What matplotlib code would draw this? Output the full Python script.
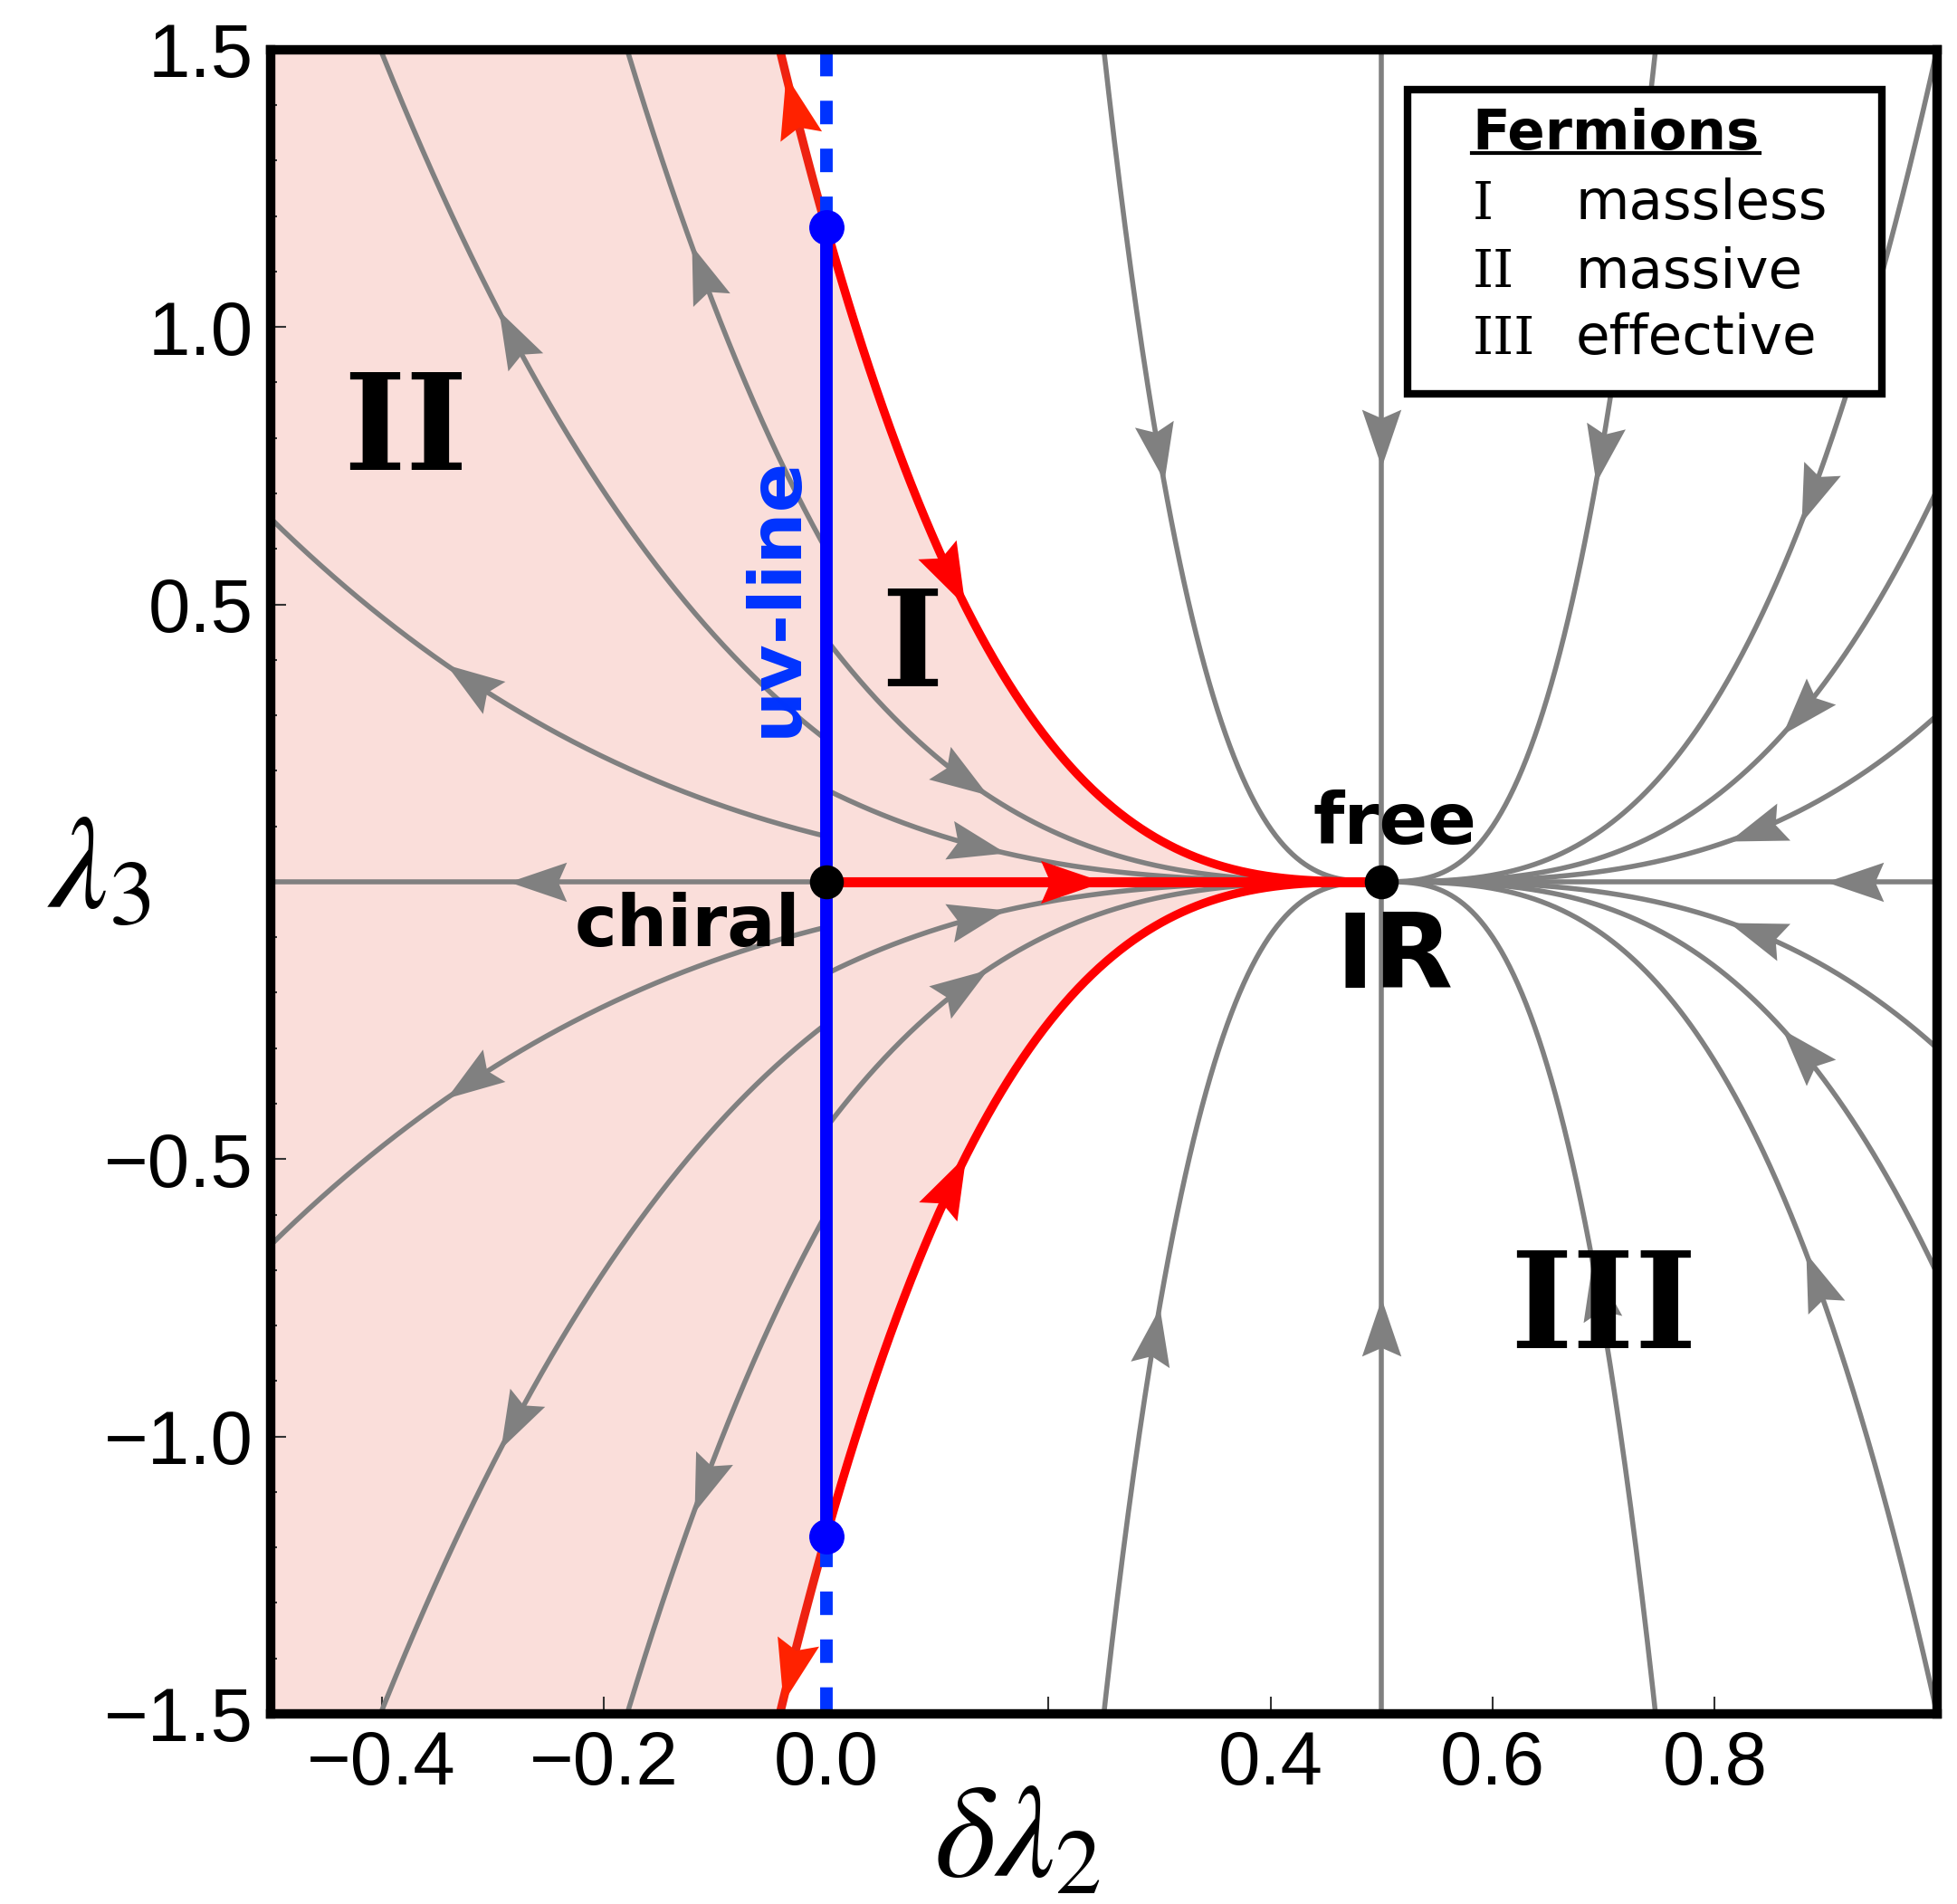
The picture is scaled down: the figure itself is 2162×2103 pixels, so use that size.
import matplotlib.pyplot as plt
import numpy as np
from matplotlib.markers import MarkerStyle
from matplotlib.path import Path
from matplotlib.transforms import Affine2D
from matplotlib.patches import Rectangle
from matplotlib.ticker import MultipleLocator

plt.rcParams['font.family'] = ['Liberation Sans', 'DejaVu Sans']
plt.rcParams['mathtext.fontset'] = 'stix'

# Puntos fijos: chiral (0,0), IR (0.5,0) y extremo de la linea UV
x_uv = 0.0
x_ir = 0.5
y_uv = 1.18

# Lineas de flujo: lambda3 = c * |dl2 - 0.5|**3, una constante c por linea
c_left = [0.655, 2.05, 4.79, -0.655, -2.05, -4.79]        # de la linea UV hacia la izquierda
tip_left = [-0.342, -0.295, -0.121, -0.342, -0.293, -0.119]
c_mid = [1.33, 3.5, 96.0, -1.33, -3.55, -96.0]             # de la linea UV hacia IR
tip_mid = [0.162, 0.145, 0.304, 0.162, 0.145, 0.300]
c_right = [2.4, 5.65, 12.0, 100.0, -2.4, -5.65, -12.0, -100.0]  # desde la derecha hacia IR
tip_right = [0.813, 0.861, 0.878, 0.693, 0.813, 0.861, 0.882, 0.690]

# separatriz roja
c_sep = [9.44, -9.44]
tip_sep = [0.125, 0.126]
tip_sep_out = [-0.036, -0.039]

# flechas sobre los ejes lambda3=0 y dl2=0.5
tip_axis_left = -0.286
tip_axis_red = 0.250
tip_axis_right = 0.900
tip_vertical = [0.748, -0.751]

x_ticks = [-0.4, -0.2, 0.0, 0.2, 0.4, 0.6, 0.8]
x_labels = ['\u22120.4', '\u22120.2', '0.0', '', '0.4', '0.6', '0.8']
y_ticks = [-1.5, -1.0, -0.5, 0.0, 0.5, 1.0, 1.5]
y_labels = ['\u22121.5', '\u22121.0', '\u22120.5', '', '0.5', '1.0', '1.5']

legend_num = ['I', 'II', 'III']
legend_txt = ['massless', 'massive', 'effective']

gris = '#808080'
rojo = '#ff0000'
rojo2 = '#ee2211'
azul = '#0000ff'
azul2 = '#0033ff'
rosa = '#fadeda'


def flujo(c, x):
    return c * np.abs(x - x_ir) ** 3


fig = plt.figure(figsize=(21.62, 21.03), dpi=100)
ax = fig.add_axes([0.1383, 0.0999, 0.8515, 0.8740])
ax.set_xlim(-0.5, 1.0)
ax.set_ylim(-1.5, 1.5)

# punta de flecha con muesca (estilo Mathematica)
punta = Path([(0, 0), (-1, 0.34), (-0.85, 0), (-1, -0.34), (0, 0)],
             [Path.MOVETO, Path.LINETO, Path.LINETO, Path.LINETO, Path.CLOSEPOLY])


def flecha(x, y, xa, ya, color, z=3, ms=92):
    # (xa, ya) es un punto detras de la punta, sobre la curva
    p0 = ax.transData.transform((xa, ya))
    p1 = ax.transData.transform((x, y))
    ang = np.degrees(np.arctan2(p1[1] - p0[1], p1[0] - p0[0]))
    m = MarkerStyle(punta, transform=Affine2D().rotate_deg(ang))
    ax.plot([x], [y], marker=m, ms=ms, color=color, mew=0, ls='none', zorder=z)


def flecha_curva(c, xt, sentido, color, z=3, ms=92):
    xa = xt - sentido * 0.004
    flecha(xt, flujo(c, xt), xa, flujo(c, xa), color, z, ms)


# region sombreada (a la izquierda de la separatriz)
yy = np.linspace(-1.5, 1.5, 801)
x_borde = x_ir - (np.abs(yy) / c_sep[0]) ** (1 / 3)
ax.fill_betweenx(yy, -0.5, x_borde, color=rosa, lw=0, zorder=0.5)

# lineas grises
xl = np.linspace(-0.5, x_uv, 400)
for c, xt in zip(c_left, tip_left):
    ax.plot(xl, flujo(c, xl), color=gris, lw=4, zorder=2)
    flecha_curva(c, xt, -1, gris, 2)

xm = np.linspace(x_uv, x_ir, 400)
for c, xt in zip(c_mid, tip_mid):
    ax.plot(xm, flujo(c, xm), color=gris, lw=4, zorder=2)
    flecha_curva(c, xt, 1, gris, 2)

xr = np.linspace(x_ir, 1.0, 400)
for c, xt in zip(c_right, tip_right):
    ax.plot(xr, flujo(c, xr), color=gris, lw=4, zorder=2)
    flecha_curva(c, xt, -1, gris, 2)

ax.plot([-0.5, x_uv], [0, 0], color=gris, lw=4, zorder=2)
flecha(tip_axis_left, 0, tip_axis_left + 0.01, 0, gris, 2)
ax.plot([x_ir, 1.0], [0, 0], color=gris, lw=4, zorder=2)
flecha(tip_axis_right, 0, tip_axis_right + 0.01, 0, gris, 2)
ax.plot([x_ir, x_ir], [-1.5, 1.5], color=gris, lw=4, zorder=2)
for yt in tip_vertical:
    flecha(x_ir, yt, x_ir, yt + 0.02 * np.sign(yt), gris, 2)

# separatriz roja
for c, xt, xo in zip(c_sep, tip_sep, tip_sep_out):
    ax.plot(xm, flujo(c, xm), color=rojo, lw=6.8, zorder=3)
    flecha_curva(c, xt, 1, rojo, ms=100)
    xe = np.linspace(-0.06, x_uv, 100)
    ax.plot(xe, flujo(c, xe), color=rojo2, lw=6.8, zorder=3)
    flecha_curva(c, xo, -1, '#ff2200', ms=100)
ax.plot([x_uv, x_ir], [0, 0], color=rojo, lw=8, zorder=3)
flecha(tip_axis_red, 0, tip_axis_red - 0.01, 0, rojo, ms=100)

# linea UV (continua) y su prolongacion a trazos
ax.plot([x_uv, x_uv], [-y_uv, y_uv], color=azul, lw=10, zorder=4, solid_capstyle='butt')
for s in [1, -1]:
    ax.plot([x_uv, x_uv], [s * y_uv, s * 1.5], color=azul2, lw=10, zorder=4,
            ls=(3.24, (1.87, 1.94)), dash_capstyle='butt')
ax.plot([x_uv, x_uv], [y_uv, -y_uv], 'o', color=azul, ms=27, zorder=5)
ax.plot([x_uv, x_ir], [0, 0], 'o', color='black', ms=26, zorder=5)

# textos
ax.text(-0.045, 0.514, 'uv-line', color=azul2, rotation=90, fontsize=58,
        fontweight='bold', family='DejaVu Sans', ha='center', va='center', zorder=6)
ax.text(-0.125, -0.080, 'chiral', fontsize=57, fontweight='bold',
        family='DejaVu Sans', ha='center', va='center', zorder=6)
ax.text(0.512, 0.104, 'free', fontsize=57, fontweight='bold',
        family='DejaVu Sans', ha='center', va='center', zorder=6)
ax.text(0.512, -0.139, 'IR', fontsize=82, fontweight='bold',
        family='DejaVu Sans', ha='center', va='center', zorder=6)
ax.text(-0.379, 0.809, 'II', fontsize=106, fontweight='bold',
        family='DejaVu Serif', ha='center', va='center', zorder=6)
ax.text(0.0775, 0.419, 'I', fontsize=106, fontweight='bold',
        family='DejaVu Serif', ha='center', va='center', zorder=6)
ax.text(0.700, -0.774, 'III', fontsize=106, fontweight='bold',
        family='DejaVu Serif', ha='center', va='center', zorder=6)

# cuadro de leyenda
ax.add_patch(Rectangle((0.682, 0.793), 0.285, 0.183, transform=ax.transAxes,
                       fc='white', ec='black', lw=6, zorder=7))
t_ferm = ax.text(0.721, 0.949, 'Fermions', transform=ax.transAxes, fontsize=44,
                 fontweight='bold', family='DejaVu Sans', ha='left', va='center', zorder=8)
for yl, num, txt in zip([0.907, 0.866, 0.826], legend_num, legend_txt):
    ax.text(0.721, yl, num, transform=ax.transAxes, fontsize=42,
            family='DejaVu Serif', ha='left', va='center', zorder=8)
    ax.text(0.783, yl, txt, transform=ax.transAxes, fontsize=44,
            family='DejaVu Sans', ha='left', va='center', zorder=8)

# ejes
for sp in ax.spines.values():
    sp.set_linewidth(7.5)
    sp.set_zorder(9)
ax.set_xticks(x_ticks, x_labels)
ax.set_yticks(y_ticks, y_labels)
ax.yaxis.set_minor_locator(MultipleLocator(0.1))
ax.tick_params(which='both', direction='in', top=False, right=False,
               labelsize=60, width=1.5, color='#333333')
ax.tick_params(axis='x', which='major', length=14, pad=12)
ax.tick_params(axis='y', which='major', length=12, pad=14)
ax.tick_params(axis='y', which='minor', length=5)

ax.set_xlabel(r'$\delta\lambda_2$', fontsize=105)
ax.xaxis.set_label_coords(0.448, -0.040)
ax.xaxis.label.set_va('top')
ax.set_ylabel(r'$\lambda_3$', fontsize=105, rotation=0, ha='center', va='center')
ax.yaxis.set_label_coords(-0.103, 0.505)

# subrayado de "Fermions"
fig.canvas.draw()
bb = t_ferm.get_window_extent()
inv = ax.transAxes.inverted()
(ux0, uy), (ux1, _) = inv.transform([(bb.x0, bb.y0 + 9), (bb.x1, bb.y0 + 9)])
ax.plot([ux0, ux1], [uy, uy], transform=ax.transAxes, color='black', lw=3,
        zorder=8, clip_on=False)

fig.savefig('out.png', dpi=100)
